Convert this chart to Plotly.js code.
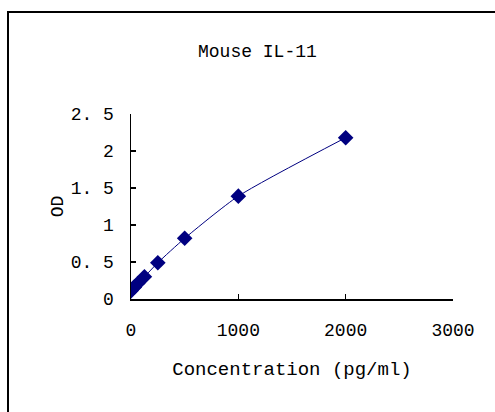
<!DOCTYPE html>
<html>
<head>
<meta charset="utf-8">
<script src="https://cdn.plot.ly/plotly-3.0.1.min.js"></script>
<style>
  html, body { margin: 0; padding: 0; background: #fff; }
  #wrap { position: relative; width: 495px; height: 412px; overflow: hidden; }
  #chart { position: absolute; left: 0; top: 0; width: 495px; height: 412px; }
  #frame { position: absolute; left: 7px; top: 11px; width: 600px; height: 500px;
           border-left: 2px solid #000; border-top: 2px solid #000; pointer-events: none; }
</style>
</head>
<body>
<div id="wrap">
  <div id="chart"></div>
  <div id="frame"></div>
</div>
<script>
const concentration = [0, 31.25, 62.5, 125, 250, 500, 1000, 2000];
const od = [0.11, 0.16, 0.21, 0.30, 0.49, 0.82, 1.39, 2.18];
const xTicks = [0, 1000, 2000, 3000];
const yTicks = [0, 0.5, 1, 1.5, 2, 2.5];
const yTickText = ['0', '0. 5', '1', '1. 5', '2', '2. 5'];

const FONT = 'Liberation Mono, DejaVu Sans Mono, monospace';

const trace = {
  x: concentration,
  y: od,
  type: 'scatter',
  mode: 'lines+markers',
  line: { color: '#000080', width: 1, shape: 'spline', smoothing: 0.6 },
  marker: { symbol: 'diamond', size: 12, color: '#000080' },
  hoverinfo: 'skip'
};

const layout = {
  width: 495,
  height: 412,
  margin: { l: 131, r: 42, t: 114, b: 113 },
  paper_bgcolor: '#fff',
  plot_bgcolor: '#fff',
  showlegend: false,
  font: { family: FONT, size: 18, color: '#000' },
  title: {
    text: 'Mouse IL-11',
    font: { family: FONT, size: 18, color: '#000' },
    x: 0.52, xanchor: 'center',
    y: 0.878, yanchor: 'middle'
  },
  xaxis: {
    range: [0, 3000],
    tickvals: xTicks,
    ticktext: xTicks.map(String),
    ticks: 'inside', ticklen: 5, tickwidth: 1.5, tickcolor: '#000',
    showline: true, linecolor: '#000', linewidth: 1.5,
    showgrid: false, zeroline: false,
    ticklabelstandoff: 14,
    tickfont: { family: FONT, size: 18, color: '#000' },
    title: { text: 'Concentration (pg/ml)', font: { family: FONT, size: 19, color: '#000' }, standoff: 21 },
    fixedrange: true
  },
  yaxis: {
    range: [0, 2.5],
    tickvals: yTicks,
    ticktext: yTickText,
    ticks: 'inside', ticklen: 5, tickwidth: 1.5, tickcolor: '#000',
    showline: true, linecolor: '#000', linewidth: 1.5,
    showgrid: false, zeroline: false,
    ticklabelstandoff: 12,
    tickfont: { family: FONT, size: 18, color: '#000' },
    title: { text: 'OD', font: { family: FONT, size: 18, color: '#000' }, standoff: 2 },
    fixedrange: true
  }
};

Plotly.newPlot('chart', [trace], layout, { displayModeBar: false, staticPlot: true });
</script>
</body>
</html>
